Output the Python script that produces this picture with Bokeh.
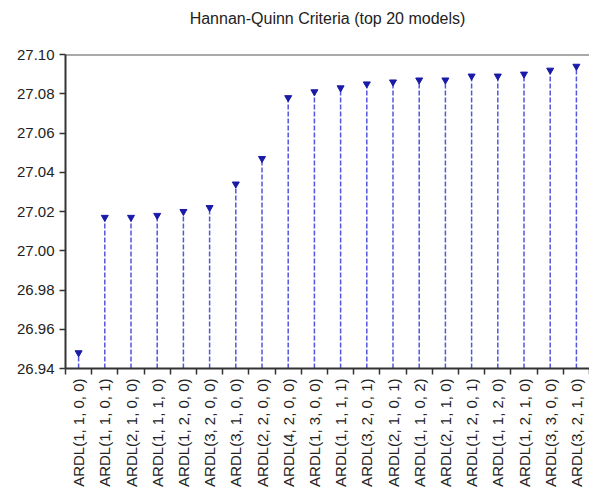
from bokeh.plotting import figure
from bokeh.models import Range1d, FixedTicker, NumeralTickFormatter, Span, ColumnDataSource, Title
from bokeh.embed import file_html
from bokeh.resources import INLINE
import math

# Hannan-Quinn criterion for the 20 best ARDL specifications
models = [
    "ARDL(1, 1, 0, 0)", "ARDL(1, 1, 0, 1)", "ARDL(2, 1, 0, 0)", "ARDL(1, 1, 1, 0)",
    "ARDL(1, 2, 0, 0)", "ARDL(3, 2, 0, 0)", "ARDL(3, 1, 0, 0)", "ARDL(2, 2, 0, 0)",
    "ARDL(4, 2, 0, 0)", "ARDL(1, 3, 0, 0)", "ARDL(1, 1, 1, 1)", "ARDL(3, 2, 0, 1)",
    "ARDL(2, 1, 0, 1)", "ARDL(1, 1, 0, 2)", "ARDL(2, 1, 1, 0)", "ARDL(1, 2, 0, 1)",
    "ARDL(1, 1, 2, 0)", "ARDL(1, 2, 1, 0)", "ARDL(3, 3, 0, 0)", "ARDL(3, 2, 1, 0)",
]
hq_values = [
    26.948, 27.017, 27.017, 27.018, 27.020, 27.022, 27.034, 27.047,
    27.078, 27.081, 27.083, 27.085, 27.086, 27.087, 27.087, 27.089,
    27.089, 27.090, 27.092, 27.094,
]
y_ticks = [26.94, 26.96, 26.98, 27.00, 27.02, 27.04, 27.06, 27.08, 27.10]
chart_title = "Hannan-Quinn Criteria (top 20 models)"

base = y_ticks[0]
xs = list(range(1, len(models) + 1))
src = ColumnDataSource(dict(x=xs, y=hq_values, y0=[base] * len(xs)))

p = figure(
    width=589, height=489,
    output_backend="svg", toolbar_location=None,
    x_range=Range1d(0.5, len(models) + 0.5),
    y_range=Range1d(y_ticks[0], y_ticks[-1]),
    title=chart_title,
    min_border_left=65, min_border_right=0, min_border_top=54, min_border_bottom=121,
)
p.title.align = "center"
p.title.text_font = "Liberation Sans"
p.title.text_font_size = "16px"
p.title.text_font_style = "normal"
p.title.text_color = "#222222"
p.title.standoff = 4

# empty band between the title and the frame
p.add_layout(Title(text=" ", text_font_size="17px", standoff=5), "above")

p.outline_line_color = None
p.grid.grid_line_color = None
p.background_fill_color = "white"
p.border_fill_color = "white"

# stems and markers
p.segment(x0="x", y0="y0", x1="x", y1="y", source=src,
          line_color="#5555e0", line_width=1.5, line_dash="5 2")
p.scatter(x="x", y="y", source=src, marker="inverted_triangle",
          size=7, fill_color="#1a1aa8", line_color="#1a1aa8")

# frame top line
p.add_layout(Span(location=y_ticks[-1], dimension="width",
                  line_color="#555555", line_width=2))

# x axis: labels at category centres, tick marks between categories
xa = p.xaxis[0]
xa.ticker = FixedTicker(ticks=xs, minor_ticks=[i + 0.5 for i in range(0, len(models) + 1)])
xa.major_label_overrides = {i + 1: m for i, m in enumerate(models)}
xa.major_label_orientation = math.pi / 2
xa.major_tick_out = 0
xa.major_tick_in = 0
xa.minor_tick_out = 6
xa.minor_tick_in = 0
xa.minor_tick_line_color = "#333333"
xa.minor_tick_line_width = 1.5
xa.axis_line_color = "#333333"
xa.axis_line_width = 2
xa.major_label_text_font = "Liberation Sans"
xa.major_label_text_font_size = "15px"
xa.major_label_text_color = "#222222"
xa.major_label_standoff = 4

ya = p.yaxis[0]
ya.ticker = FixedTicker(ticks=y_ticks)
ya.formatter = NumeralTickFormatter(format="0.00")
ya.major_tick_out = 6
ya.major_tick_in = 0
ya.minor_tick_line_color = None
ya.major_tick_line_color = "#333333"
ya.major_tick_line_width = 1.5
ya.axis_line_color = "#333333"
ya.axis_line_width = 2
ya.major_label_text_font = "Liberation Sans"
ya.major_label_text_font_size = "15px"
ya.major_label_text_color = "#222222"
ya.major_label_standoff = 5

open("out.html", "w").write(file_html(p, INLINE))
